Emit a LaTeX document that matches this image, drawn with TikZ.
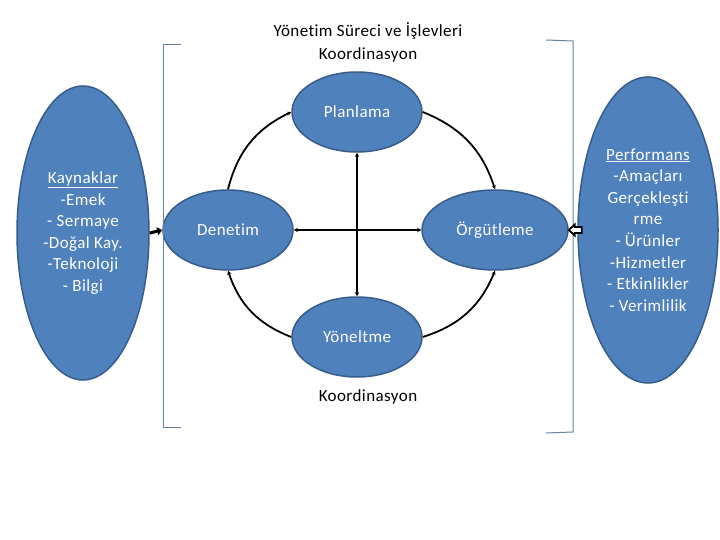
\documentclass[tikz,border=0pt]{standalone}
\usepackage{fontspec}
\setmainfont{Carlito}[Ligatures=NoCommon,LetterSpace=2.5]
\usetikzlibrary{shapes.geometric,arrows.meta}
\definecolor{nodefill}{RGB}{79,129,189}
\definecolor{nodeline}{RGB}{56,93,138}
\definecolor{brk}{RGB}{100,130,165}
\begin{document}
\begin{tikzpicture}[x=1pt,y=1pt,
  blob/.style={ellipse, draw=nodeline, line width=1.5pt, fill=nodefill, text=white,
    inner sep=0pt, align=center, font=\fontsize{17}{21.6}\selectfont},
  lbl/.style={font=\fontsize{17}{23}\selectfont, align=center, inner sep=0pt},
  link/.style={line width=1.8pt, -{Stealth[length=4pt,width=4pt]}},
  both/.style={line width=1.8pt, {Stealth[length=4pt,width=4pt]}-{Stealth[length=4pt,width=4pt]}},
  bracket/.style={draw=brk, line width=1pt}]
\useasboundingbox (0,0) rectangle (720,-540);
\fill[white] (0,0) rectangle (720,-540);

% big ellipses
\node[blob, minimum width=132, minimum height=294] (K) at (83,-233)
  {\underline{Kaynaklar}\\-Emek\\- Sermaye\\-Doğal Kay.\\-Teknoloji\\- Bilgi};
\node[blob, minimum width=140, minimum height=306] (P) at (648,-230)
  {\underline{Performans}\\-Amaçları\\Gerçekleşti\\rme\\- Ürünler\\-Hizmetler\\- Etkinlikler\\- Verimlilik};

% process ellipses
\node[blob, minimum width=130, minimum height=80] (Pl) at (357,-112) {Planlama};
\node[blob, minimum width=130, minimum height=80] (De) at (228,-230) {Denetim};
\node[blob, minimum width=146, minimum height=80] (Or) at (495,-230) {Örgütleme};
\node[blob, minimum width=130, minimum height=80] (Yo) at (357,-337) {Yöneltme};

% texts
\node[lbl] (T1) at (368,-42) {Yönetim Süreci ve İşlevleri\\Koordinasyon};
\node[lbl] (T2) at (368,-397) {Koordinasyon};

% brackets
\draw[bracket] (181,-45) -- (163,-45) -- (163,-427) -- (181,-427);
\draw[bracket] (546,-40) -- (573,-41) -- (573,-432) -- (546,-433);

% cycle arcs
\draw[link] (De.north) to[bend left=25] (Pl.west);
\draw[link] (Pl.east) to[bend left=25] (Or.north);
\draw[link] (Yo.east) to[bend right=25] (Or.south);
\draw[link] (Yo.west) to[bend left=25] (De.south);

% cross
\draw[both] (Pl.south) -- (Yo.north);
\draw[both] (De.east) -- (Or.west);

% input arrow
\draw[line width=3pt, -{Triangle[length=5pt,width=8pt]}] (K.east) -- (De.west);
% output hollow arrow
\draw[line width=1.8pt, fill=white, line join=miter]
  (Or.east) -- ++(6,5.5) -- ++(0,-2.5) -- ++(7,0) -- ++(0,-6) -- ++(-7,0) -- ++(0,-2.5) -- cycle;
\end{tikzpicture}
\end{document}
